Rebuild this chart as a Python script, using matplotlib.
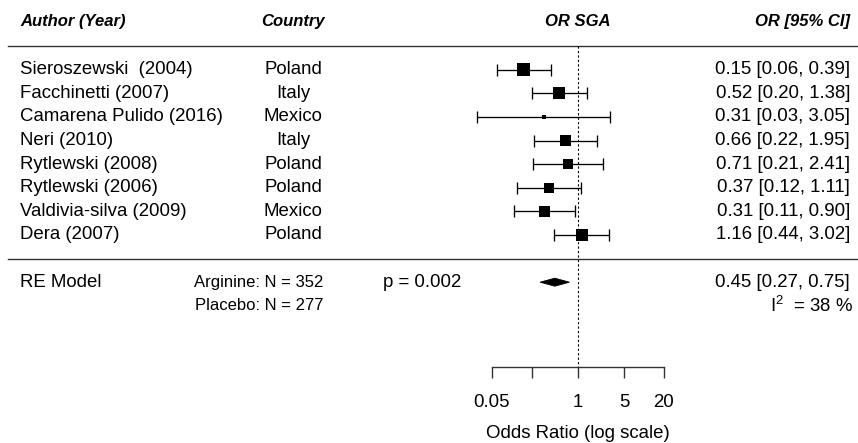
import numpy as np
import matplotlib
matplotlib.use("Agg")
import matplotlib.pyplot as plt
from matplotlib.transforms import blended_transform_factory
from matplotlib.patches import Polygon

plt.rcParams['font.family'] = ['Liberation Sans', 'DejaVu Sans']

# --- donnees ---
auteurs = ["Sieroszewski  (2004)", "Facchinetti (2007)", "Camarena Pulido (2016)",
           "Neri (2010)", "Rytlewski (2008)", "Rytlewski (2006)",
           "Valdivia-silva (2009)", "Dera (2007)"]
pays = ["Poland", "Italy", "Mexico", "Italy", "Poland", "Poland", "Mexico", "Poland"]
or_est = [0.15, 0.52, 0.31, 0.66, 0.71, 0.37, 0.31, 1.16]
ci_low = [0.06, 0.20, 0.03, 0.22, 0.21, 0.12, 0.11, 0.44]
ci_up = [0.39, 1.38, 3.05, 1.95, 2.41, 1.11, 0.90, 3.02]

re_est, re_low, re_up = 0.45, 0.27, 0.75
p_val = "0.002"
i2 = 38
n_arginine = 352
n_placebo = 277

ticks = [0.05, 0.2, 1, 5, 20]
tick_labels = ["0.05", "", "1", "5", "20"]

# --- figure ---
fig = plt.figure(figsize=(8.58, 4.43), dpi=100)
ax = fig.add_axes([0, 0, 1, 1])
ax.set_xscale('log')
px_par_ln = 28.7
ax.set_xlim(np.exp(-577.7 / px_par_ln), np.exp((858 - 577.7) / px_par_ln))
ax.set_ylim(-7.81, 10.95)
ax.axis('off')

tr = blended_transform_factory(ax.transAxes, ax.transData)
k = len(auteurs)
rows = np.arange(k, 0, -1)

# poids ~ 1/SE, comme metafor
se = (np.log(ci_up) - np.log(ci_low)) / (2 * 1.96)
wi = 1 / se
norm = (wi - wi.min()) / (wi.max() - wi.min())
cote_px = 4.3 + 8.4 * norm
cote_pt = cote_px * 72 / 100

# intervalles
est = np.array(or_est)
ax.errorbar(est, rows, xerr=[est - np.array(ci_low), np.array(ci_up) - est],
            fmt='none', ecolor='black', elinewidth=0.95, capsize=4, capthick=0.95)
ax.scatter(est, rows, s=cote_pt ** 2, marker='s', color='black', linewidths=0, zorder=3)

# diamant RE
diam = Polygon([(re_low, -1), (re_est, -1 + 0.17), (re_up, -1), (re_est, -1 - 0.17)],
               closed=True, facecolor='black', edgecolor='black', lw=0.6)
ax.add_patch(diam)

# lignes horizontales
ax.axhline(9, xmin=0.009, xmax=1, color='#333333', lw=1.0)
ax.axhline(0, xmin=0.009, xmax=1, color='#333333', lw=1.0)

# ligne de reference
ax.plot([1, 1], [9, -4.6], color='black', lw=0.8, linestyle=(0, (2, 2)))

# axe des x
y_axe = -4.6
ax.plot([ticks[0], ticks[-1]], [y_axe, y_axe], color='#333333', lw=1.0)
ax.vlines(ticks, y_axe, y_axe - 0.47, color='#333333', lw=1.0)
for t, lab in zip(ticks, tick_labels):
    ax.text(t, -6.29, lab, ha='center', va='baseline', fontsize=13.4)
ax.text(1, -7.58, "Odds Ratio (log scale)", ha='center', va='baseline', fontsize=13.4)

# en-tetes
fs = 13.4
ax.text(0.0233, 10.02, "Author (Year)", transform=tr, ha='left', va='center',
        fontsize=12, fontweight='bold', fontstyle='italic')
ax.text(0.3415, 10.02, "Country", transform=tr, ha='center', va='center',
        fontsize=12, fontweight='bold', fontstyle='italic')
ax.text(1, 10.02, "OR SGA", ha='center', va='center',
        fontsize=12, fontweight='bold', fontstyle='italic')
ax.text(0.9907, 10.02, "OR [95% CI]", transform=tr, ha='right', va='center',
        fontsize=12, fontweight='bold', fontstyle='italic')

# colonnes de texte
for r, a, c, e, lo, up in zip(rows, auteurs, pays, or_est, ci_low, ci_up):
    ax.text(0.0233, r, a, transform=tr, ha='left', va='center', fontsize=fs)
    ax.text(0.3415, r, c, transform=tr, ha='center', va='center', fontsize=fs)
    ax.text(0.9907, r, f"{e:.2f} [{lo:.2f}, {up:.2f}]", transform=tr,
            ha='right', va='center', fontsize=fs)

# ligne RE
ax.text(0.0233, -1, "RE Model", transform=tr, ha='left', va='center', fontsize=fs)
ax.text(0.3765, -1, f"Arginine: N = {n_arginine}", transform=tr, ha='right',
        va='center', fontsize=12)
ax.text(0.3765, -2, f"Placebo: N = {n_placebo}", transform=tr, ha='right',
        va='center', fontsize=12)
ax.text(0.4464, -1, f"p = {p_val}", transform=tr, ha='left', va='center', fontsize=fs)
ax.text(0.9907, -1, f"{re_est:.2f} [{re_low:.2f}, {re_up:.2f}]", transform=tr,
        ha='right', va='center', fontsize=fs)
ax.text(0.995, -2, r"$\mathregular{I^2}$  = " + f"{i2} %", transform=tr,
        ha='right', va='center', fontsize=fs)

fig.savefig("out.png", dpi=100)
